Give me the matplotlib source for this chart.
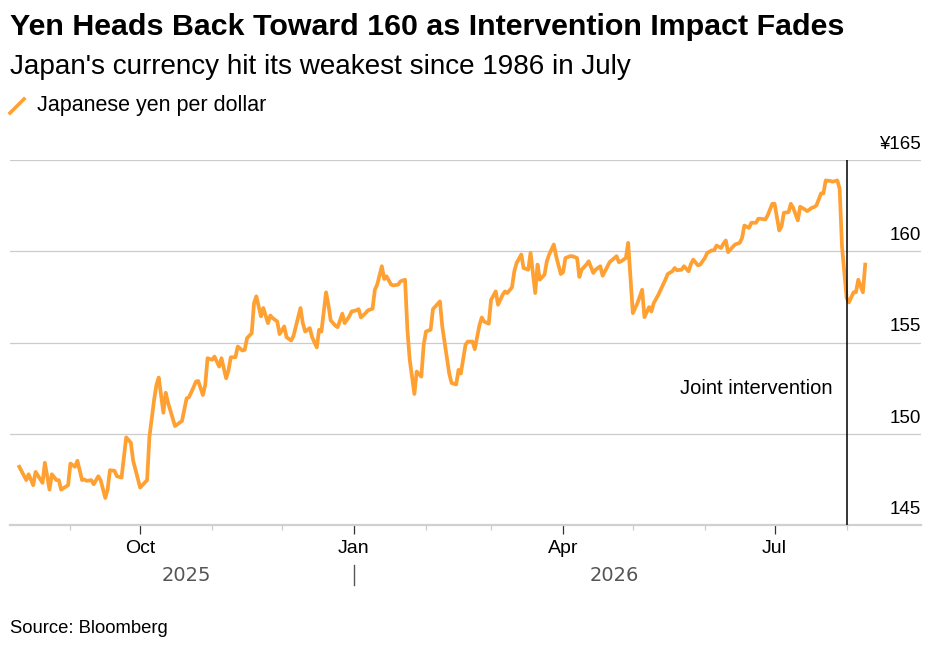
import matplotlib
matplotlib.use("Agg")
import matplotlib.pyplot as plt
from matplotlib.lines import Line2D
import matplotlib.transforms as mtransforms
import pandas as pd

plt.rcParams['font.family'] = ['Liberation Sans', 'DejaVu Sans']

# Yen per dollar
dates = [
    "2025-08-10", "2025-08-13", "2025-08-14", "2025-08-16", "2025-08-17", "2025-08-20", "2025-08-21",
    "2025-08-23", "2025-08-24", "2025-08-26", "2025-08-27", "2025-08-28", "2025-08-31", "2025-09-01",
    "2025-09-03", "2025-09-04", "2025-09-06", "2025-09-07", "2025-09-08", "2025-09-10", "2025-09-11",
    "2025-09-13", "2025-09-14", "2025-09-16", "2025-09-17", "2025-09-18", "2025-09-20", "2025-09-21",
    "2025-09-23", "2025-09-25", "2025-09-27", "2025-09-28", "2025-10-01", "2025-10-04", "2025-10-05",
    "2025-10-07", "2025-10-08", "2025-10-09", "2025-10-11", "2025-10-12", "2025-10-13", "2025-10-16",
    "2025-10-19", "2025-10-21", "2025-10-22", "2025-10-24", "2025-10-25", "2025-10-26", "2025-10-28",
    "2025-10-29", "2025-10-30", "2025-11-01", "2025-11-02", "2025-11-04", "2025-11-05", "2025-11-07",
    "2025-11-08", "2025-11-09", "2025-11-11", "2025-11-12", "2025-11-14", "2025-11-15", "2025-11-16",
    "2025-11-18", "2025-11-19", "2025-11-20", "2025-11-22", "2025-11-23", "2025-11-25", "2025-11-26",
    "2025-11-27", "2025-11-29", "2025-11-30", "2025-12-02", "2025-12-03", "2025-12-05", "2025-12-06",
    "2025-12-07", "2025-12-09", "2025-12-10", "2025-12-11", "2025-12-13", "2025-12-14", "2025-12-16",
    "2025-12-17", "2025-12-18", "2025-12-20", "2025-12-21", "2025-12-22", "2025-12-24", "2025-12-25",
    "2025-12-27", "2025-12-28", "2025-12-30", "2025-12-31",
    "2026-01-02", "2026-01-03", "2026-01-04", "2026-01-06", "2026-01-07", "2026-01-09", "2026-01-10",
    "2026-01-11", "2026-01-13", "2026-01-14", "2026-01-15", "2026-01-17", "2026-01-18", "2026-01-20",
    "2026-01-21", "2026-01-23", "2026-01-24", "2026-01-25", "2026-01-27", "2026-01-28", "2026-01-30",
    "2026-01-31", "2026-02-01", "2026-02-03", "2026-02-04", "2026-02-07", "2026-02-08", "2026-02-11",
    "2026-02-12", "2026-02-14", "2026-02-15", "2026-02-16", "2026-02-18", "2026-02-19", "2026-02-21",
    "2026-02-22", "2026-02-24", "2026-02-25", "2026-02-26", "2026-02-28", "2026-03-01", "2026-03-03",
    "2026-03-04", "2026-03-06", "2026-03-07", "2026-03-08", "2026-03-10", "2026-03-11", "2026-03-12",
    "2026-03-14", "2026-03-15", "2026-03-17", "2026-03-18", "2026-03-20", "2026-03-21", "2026-03-22",
    "2026-03-24", "2026-03-25", "2026-03-26", "2026-03-28", "2026-03-29", "2026-03-31", "2026-04-01",
    "2026-04-02", "2026-04-04", "2026-04-05", "2026-04-07", "2026-04-08", "2026-04-09", "2026-04-11",
    "2026-04-12", "2026-04-14", "2026-04-15", "2026-04-17", "2026-04-18", "2026-04-19", "2026-04-21",
    "2026-04-22", "2026-04-24", "2026-04-25", "2026-04-26", "2026-04-28", "2026-04-29", "2026-05-01",
    "2026-05-02", "2026-05-03", "2026-05-05", "2026-05-06", "2026-05-08", "2026-05-09", "2026-05-10",
    "2026-05-12", "2026-05-13", "2026-05-15", "2026-05-16", "2026-05-18", "2026-05-19", "2026-05-20",
    "2026-05-22", "2026-05-23", "2026-05-25", "2026-05-26", "2026-05-27", "2026-05-29", "2026-05-30",
    "2026-06-01", "2026-06-02", "2026-06-04", "2026-06-05", "2026-06-06", "2026-06-08", "2026-06-09",
    "2026-06-10", "2026-06-11", "2026-06-13", "2026-06-14", "2026-06-16", "2026-06-17", "2026-06-18",
    "2026-06-20", "2026-06-21", "2026-06-23", "2026-06-24", "2026-06-25", "2026-06-27", "2026-06-28",
    "2026-06-30", "2026-07-01", "2026-07-03", "2026-07-04", "2026-07-05", "2026-07-07", "2026-07-08",
    "2026-07-09", "2026-07-11", "2026-07-12", "2026-07-14", "2026-07-15", "2026-07-17", "2026-07-18",
    "2026-07-19", "2026-07-21", "2026-07-22", "2026-07-23", "2026-07-25", "2026-07-26", "2026-07-28",
    "2026-07-29", "2026-07-30", "2026-08-01", "2026-08-02", "2026-08-04", "2026-08-05", "2026-08-06",
    "2026-08-08", "2026-08-09",
]
yen = [
    148.19, 147.46, 147.78, 147.18, 147.91, 147.31, 148.41,
    146.94, 147.78, 147.46, 147.46, 146.94, 147.18, 148.37,
    148.19, 148.52, 147.46, 147.49, 147.42, 147.46, 147.23,
    147.67, 147.46, 146.48, 146.94, 148.00, 147.97, 147.67,
    147.60, 149.80, 149.51, 148.52, 147.05, 147.46, 149.84,
    151.85, 152.67, 153.08, 151.15, 152.25, 151.70, 150.42,
    150.70, 151.94, 152.00, 152.55, 152.86, 152.89, 152.12,
    152.67, 154.14, 154.05, 154.23, 153.68, 154.14, 153.04,
    153.46, 154.19, 154.19, 154.78, 154.56, 154.60, 155.24,
    155.51, 157.16, 157.53, 156.43, 156.89, 156.06, 156.48,
    156.34, 156.15, 155.46, 155.88, 155.29, 155.11, 155.37,
    155.88, 156.89, 156.06, 155.60, 155.79, 155.29, 154.73,
    155.70, 155.60, 157.75, 157.07, 156.21, 155.92, 155.84,
    156.58, 156.06, 156.43, 156.70,
    156.76, 156.83, 156.37, 156.61, 156.76, 156.85, 157.89,
    158.17, 159.18, 158.48, 158.63, 158.17, 158.13, 158.17,
    158.35, 158.44, 155.70, 154.05, 152.18, 153.41, 153.13,
    154.87, 155.60, 155.70, 156.83, 157.25, 155.88, 153.30,
    152.78, 152.70, 153.50, 153.30, 154.87, 155.05, 155.05,
    154.63, 155.95, 156.37, 156.15, 156.03, 157.34, 157.80,
    157.07, 157.62, 157.80, 157.71, 158.02, 158.90, 159.36,
    159.82, 159.08, 158.99, 159.91, 157.71, 159.27, 158.44,
    158.72, 159.45, 159.82, 160.37, 159.73, 158.75, 158.85,
    159.63, 159.73, 159.73, 159.63, 158.59, 158.99, 159.27,
    159.45, 158.81, 158.99, 159.18, 158.66, 158.90, 159.40,
    159.51, 159.73, 159.40, 159.45, 159.63, 160.46, 156.61,
    156.89, 157.16, 157.89, 156.39, 156.94, 156.70, 157.16,
    157.62, 157.89, 158.44, 158.75, 158.90, 159.08, 158.96,
    158.99, 159.18, 158.90, 159.30, 159.54, 159.23, 159.27,
    159.63, 159.91, 160.05, 160.05, 160.31, 160.18, 160.42,
    160.59, 159.95, 160.24, 160.37, 160.46, 160.73, 161.41,
    161.28, 161.56, 161.56, 161.78, 161.78, 161.74, 161.96,
    162.60, 162.60, 161.14, 161.37, 162.11, 162.14, 162.60,
    162.38, 161.69, 162.44, 162.29, 162.20, 162.38, 162.42,
    162.51, 163.17, 163.17, 163.88, 163.85, 163.81, 163.88,
    163.42, 160.27, 157.44, 157.20, 157.75, 157.75, 158.44,
    157.75, 159.27,
]

y_ticks = [145, 150, 155, 160, 165]
y_labels = ["145", "150", "155", "160", "¥165"]
month_ticks = ["2025-10-01", "2026-01-01", "2026-04-01", "2026-07-01"]
month_labels = ["Oct", "Jan", "Apr", "Jul"]
minor_months = ["2025-09-01", "2025-11-01", "2025-12-01", "2026-02-01", "2026-03-01",
                "2026-05-01", "2026-06-01", "2026-08-01"]
years = ["2025", "2026"]
year_pos = ["2025-10-21", "2026-04-23"]
intervention_date = "2026-08-01"

orange = "#ffa033"

fig = plt.figure(figsize=(9.5, 6.46), dpi=100)
ax = fig.add_axes([10 / 950, 121 / 646, 911 / 950, 365 / 646])

x = pd.to_datetime(dates)
ax.plot(x, yen, color=orange, lw=2.7, solid_joinstyle="round", zorder=3)

ax.set_ylim(145, 165)
ax.set_xlim(pd.Timestamp("2025-08-06"), pd.Timestamp("2026-09-02"))

# horizontal grid
ax.set_yticks(y_ticks)
ax.yaxis.grid(True, color="#cccccc", lw=0.9)
ax.tick_params(axis="y", length=0, labelleft=False)
for v, lab in zip(y_ticks, y_labels):
    ax.annotate(lab, xy=(1.0, v), xycoords=("axes fraction", "data"),
                xytext=(0, 8), textcoords="offset points",
                ha="right", va="baseline", fontsize=13.5, color="black")

for s in ["left", "right", "top"]:
    ax.spines[s].set_visible(False)
ax.spines["bottom"].set_color("#d0d0d0")
ax.spines["bottom"].set_linewidth(1.6)

# x ticks
ax.set_xticks(pd.to_datetime(month_ticks))
ax.set_xticklabels(month_labels, fontsize=14)
ax.set_xticks(pd.to_datetime(minor_months), minor=True)
ax.tick_params(axis="x", which="major", length=6.5, width=0.9, color="#333333", pad=4)
ax.tick_params(axis="x", which="minor", length=3.3, width=0.9, color="#cccccc")

# year labels and divider
for yr, pos in zip(years, year_pos):
    ax.annotate(yr, xy=(pd.Timestamp(pos), 0), xycoords=("data", "axes fraction"),
                xytext=(0, -40), textcoords="offset points", ha="center", va="baseline",
                fontsize=14, color="#555555", family="DejaVu Sans")
trans = mtransforms.blended_transform_factory(ax.transData, ax.transAxes)
ax.add_line(Line2D([pd.Timestamp("2026-01-01")] * 2, [-0.11, -0.164], transform=trans,
                   color="#555555", lw=1.0, clip_on=False))

# intervention marker
ax.axvline(pd.Timestamp(intervention_date), color="black", lw=1.1, zorder=4)
ax.annotate("Joint intervention", xy=(pd.Timestamp(intervention_date), 152.2),
            xytext=(-10, 0), textcoords="offset points", ha="right", va="baseline",
            fontsize=14.5, color="black")

# titles
fig.text(10 / 950, 1 - 35 / 646, "Yen Heads Back Toward 160 as Intervention Impact Fades",
         fontsize=21.9, fontweight="bold", ha="left", va="baseline")
fig.text(10 / 950, 1 - 74 / 646, "Japan's currency hit its weakest since 1986 in July",
         fontsize=20.1, ha="left", va="baseline")
fig.add_artist(Line2D([10 / 950, 24 / 950], [1 - 113 / 646, 1 - 99 / 646],
                      color=orange, lw=2.6, transform=fig.transFigure))
fig.text(37 / 950, 1 - 111 / 646, "Japanese yen per dollar", fontsize=15.5,
         ha="left", va="baseline")
fig.text(10 / 950, 1 - 633 / 646, "Source: Bloomberg", fontsize=13.3,
         ha="left", va="baseline")

fig.savefig("out.png", dpi=100)
